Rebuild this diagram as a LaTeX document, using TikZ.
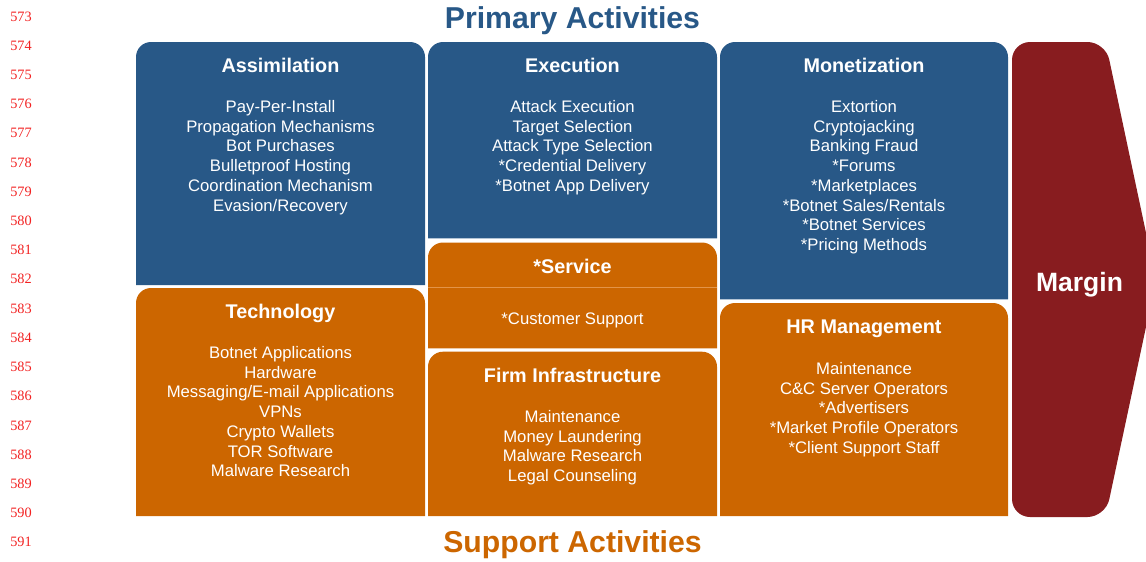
\documentclass[tikz,border=0pt]{standalone}
\usepackage{fontspec}
\setmainfont{Liberation Sans}
\newfontfamily\numfont{Liberation Serif}
\definecolor{vcblue}{HTML}{285887}
\definecolor{vcorange}{HTML}{CC6600}
\definecolor{vcred}{HTML}{881C1F}
\definecolor{vcline}{HTML}{E39448}
\definecolor{numred}{HTML}{F22222}
\tikzset{
  bodytxt/.style={inner sep=0pt, anchor=base, text=white, font=\fontsize{16.7}{20}\selectfont},
  headtxt/.style={inner sep=0pt, anchor=base, text=white, font=\fontsize{19.8}{24}\selectfont\bfseries},
  titletxt/.style={inner sep=0pt, anchor=base, font=\fontsize{30.2}{34}\selectfont\bfseries},
  linenum/.style={inner sep=0pt, anchor=base, text=numred, font=\numfont\fontsize{14.3}{16}\selectfont},
}
\newcommand{\actbox}[5]{\fill[#5] (#1,#4) -- (#1,#2+15) arc[start angle=180,end angle=270,radius=15] -- (#3-15,#2) arc[start angle=270,end angle=360,radius=15] -- (#3,#4) -- cycle;}
\begin{document}
\begin{tikzpicture}[x=1pt,y=-1pt]
\useasboundingbox (0,0) rectangle (1146,562);
% line numbers
\foreach \n [count=\i from 0] in {573,...,591}
  \node[linenum] (ln\n) at (21,21+\i*29.22) {\n};
% titles
\node[titletxt, text=vcblue] (primary) at (572.5,28.5) {Primary Activities};
\node[titletxt, text=vcorange] (support) at (572.5,552.5) {Support Activities};
% boxes
\actbox{136}{42}{425}{285}{vcblue}
\actbox{428}{42}{717}{238.3}{vcblue}
\actbox{720}{42}{1008}{299.3}{vcblue}
\actbox{136}{288}{425}{516}{vcorange}
\actbox{428}{242.5}{717}{348.3}{vcorange}
\actbox{428}{351.7}{717}{516}{vcorange}
\actbox{720}{303}{1008}{516}{vcorange}
\draw[vcline, line width=0.7pt] (428,287.3) -- (717,287.3);
% margin
\fill[vcred, rounded corners=18pt] (1060,42) -- (1105.5,42) -- (1156,280) -- (1105.5,517) -- (1012,517) -- (1012,42) -- cycle;
\node[inner sep=0pt, anchor=base, text=white, font=\fontsize{26.5}{30}\selectfont\bfseries] (margin) at (1079.5,291.5) {Margin};
% Assimilation
\node[headtxt] (asmh) at (280.5,72.5) {Assimilation};
\foreach \t [count=\i from 0] in {Pay-Per-Install,Propagation Mechanisms,Bot Purchases,Bulletproof Hosting,Coordination Mechanism,Evasion/Recovery}
  \node[bodytxt] (asm\i) at (280.5,112.3+\i*19.75) {\t};
% Execution
\node[headtxt] (exeh) at (572.5,72.5) {Execution};
\foreach \t [count=\i from 0] in {Attack Execution,Target Selection,Attack Type Selection,*Credential Delivery,*Botnet App Delivery}
  \node[bodytxt] (exe\i) at (572.5,112.3+\i*19.75) {\t};
% Monetization
\node[headtxt] (monh) at (864,72.5) {Monetization};
\foreach \t [count=\i from 0] in {Extortion,Cryptojacking,Banking Fraud,*Forums,*Marketplaces,*Botnet Sales/Rentals,*Botnet Services,*Pricing Methods}
  \node[bodytxt] (mon\i) at (864,112.3+\i*19.75) {\t};
% Technology
\node[headtxt] (tech) at (280.5,318.5) {Technology};
\foreach \t [count=\i from 0] in {Botnet Applications,Hardware,Messaging/E-mail Applications,VPNs,Crypto Wallets,TOR Software,Malware Research}
  \node[bodytxt] (tec\i) at (280.5,358.3+\i*19.75) {\t};
% Service
\node[headtxt] (serh) at (572.5,273) {*Service};
\node[bodytxt] (ser0) at (572.5,324.2) {*Customer Support};
% Firm Infrastructure
\node[headtxt] (firh) at (572.5,382.5) {Firm Infrastructure};
\foreach \t [count=\i from 0] in {Maintenance,Money Laundering,Malware Research,Legal Counseling}
  \node[bodytxt] (fir\i) at (572.5,422.3+\i*19.75) {\t};
% HR Management
\node[headtxt] (hrmh) at (864,333.5) {HR Management};
\foreach \t [count=\i from 0] in {Maintenance,C\&C Server Operators,*Advertisers,*Market Profile Operators,*Client Support Staff}
  \node[bodytxt] (hrm\i) at (864,374.3+\i*19.75) {\t};
\end{tikzpicture}
\end{document}
